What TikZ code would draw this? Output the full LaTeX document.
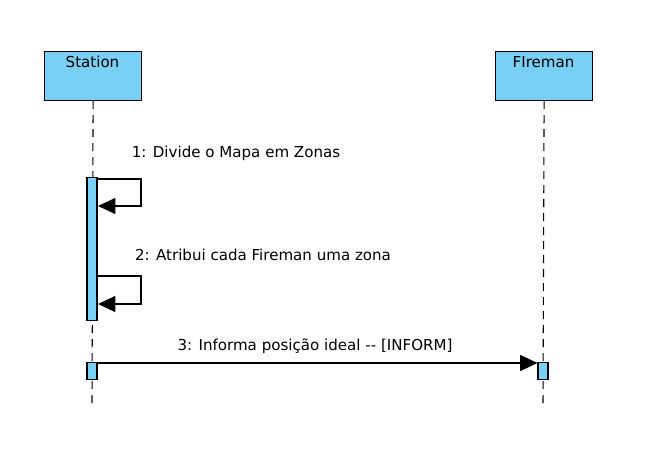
\documentclass[tikz,border=0pt]{standalone}
\usepackage{fontspec}
\setmainfont{DejaVu Sans}
\usetikzlibrary{arrows.meta}
\definecolor{actfill}{HTML}{7ACFF5}
\begin{document}
\begin{tikzpicture}[x=0.75pt,y=-0.75pt,
  actor/.style={draw=black,fill=actfill,line width=0.9pt,minimum width=97*0.75pt,minimum height=49*0.75pt,inner sep=0pt,anchor=north west},
  bar/.style={draw=black,fill=actfill,line width=0.8pt,minimum width=10*0.75pt,inner sep=0pt,anchor=north},
  life/.style={line width=0.8pt,dash pattern=on 6pt off 4.5pt},
  msg/.style={line width=0.8pt,-{Triangle[length=13pt,width=12pt]}},
  lbl/.style={font=\fontsize{11.3pt}{13pt}\selectfont,inner sep=0pt}]
\useasboundingbox (0,0) rectangle (646,467);
% actors
\node[actor] (st) at (44,51) {};
\node[lbl,anchor=center] (stl) at (92.5,62) {Station};
\node[actor] (fm) at (495,51) {};
\node[lbl,anchor=center] (fml) at (543.5,62) {FIreman};
% lifelines
\coordinate (stend) at (92,405);
\coordinate (fmend) at (543,405);
\draw[life] (st.south) -- (stend);
\draw[life] (fm.south) -- (fmend);
% activation bars
\node[bar,minimum height=143*0.75pt] (a1) at (92,177) {};
\node[bar,minimum height=17*0.75pt] (a2) at (92,362) {};
\node[bar,minimum height=17*0.75pt] (a3) at (543,362) {};
% self message 1
\coordinate (m1a) at (97,179);
\coordinate (m1b) at (98,206);
\draw[msg] (m1a) -- (141,179) -- (141,206) -- (m1b);
\node[lbl] (l1) at (236,153) {1: Divide o Mapa em Zonas};
% self message 2
\coordinate (m2a) at (97,276);
\coordinate (m2b) at (98,304);
\draw[msg] (m2a) -- (141,276) -- (141,304) -- (m2b);
\node[lbl] (l2) at (263,255) {2: Atribui cada Fireman uma zona};
% message 3
\draw[msg] (a2.east |- 0,363) -- (a3.west |- 0,363);
\node[lbl] (l3) at (315,346) {3: Informa posição ideal -{}- [INFORM]};
\end{tikzpicture}
\end{document}
